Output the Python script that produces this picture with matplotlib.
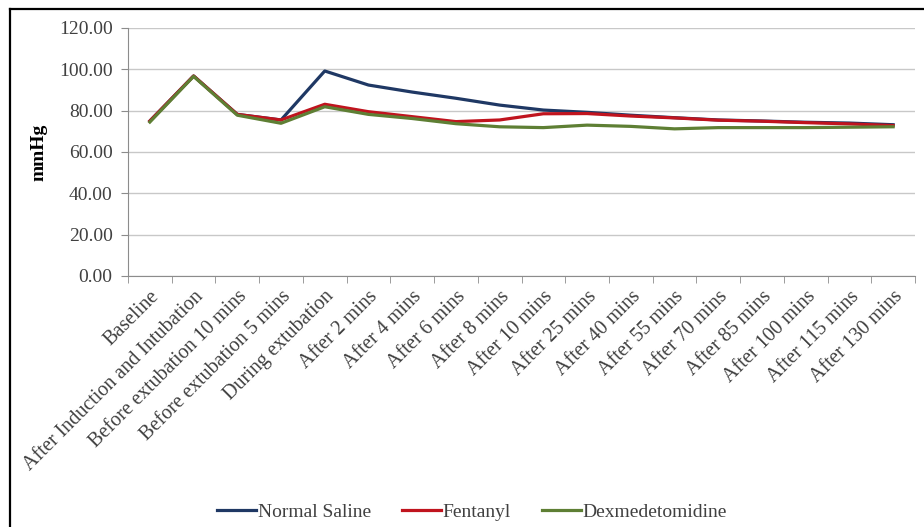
import matplotlib.pyplot as plt
from matplotlib.lines import Line2D
from matplotlib.ticker import FormatStrFormatter, MultipleLocator, FixedLocator

plt.rcParams['font.family'] = ['Liberation Serif', 'DejaVu Serif']

# Data
times = ["Baseline", "After Induction and Intubation", "Before extubation 10 mins",
         "Before extubation 5 mins", "During extubation", "After 2 mins", "After 4 mins",
         "After 6 mins", "After 8 mins", "After 10 mins", "After 25 mins", "After 40 mins",
         "After 55 mins", "After 70 mins", "After 85 mins", "After 100 mins",
         "After 115 mins", "After 130 mins"]
normal_saline = [75.0, 96.8, 78.2, 75.5, 99.2, 92.4, 89.0, 86.0, 82.7, 80.3, 79.2, 77.8,
                 76.6, 75.5, 75.0, 74.4, 74.0, 73.2]
fentanyl = [75.0, 96.8, 78.2, 75.5, 83.1, 79.5, 77.1, 74.7, 75.5, 78.5, 78.6, 77.4,
            76.5, 75.4, 74.9, 74.2, 73.6, 72.8]
dexmed = [74.5, 96.6, 77.8, 73.9, 81.9, 78.2, 76.2, 73.7, 72.2, 71.8, 73.0, 72.4,
          71.2, 71.8, 71.8, 71.8, 72.0, 72.2]

W, H = 924, 527
fig = plt.figure(figsize=(W / 100, H / 100), dpi=100)
ax = fig.add_axes([128 / W, 1 - 276 / H, (915 - 128) / W, (276 - 28) / H])

x = range(len(times))
ax.plot(x, normal_saline, color='#1F3864', linewidth=2.3, label='Normal Saline')
ax.plot(x, fentanyl, color='#C0141E', linewidth=2.3, label='Fentanyl')
ax.plot(x, dexmed, color='#5E7F34', linewidth=2.3, label='Dexmedetomidine')

ax.set_xlim(-0.5, len(times) - 0.5)
ax.set_ylim(0, 120)
ax.yaxis.set_major_locator(MultipleLocator(20))
ax.yaxis.set_major_formatter(FormatStrFormatter('%.2f'))
ax.grid(axis='y', color='#C8C8C8', linewidth=1)
ax.set_axisbelow(True)

ax.set_xticks(list(x))
ax.set_xticklabels(times, rotation=45, ha='right', rotation_mode='anchor')
ax.xaxis.set_minor_locator(FixedLocator([i - 0.5 for i in range(len(times) + 1)]))
ax.tick_params(axis='x', which='major', length=0, pad=8, labelsize=14.5, labelcolor='#404040')
ax.tick_params(axis='x', which='minor', length=5, color='#8C8C8C')
ax.tick_params(axis='y', length=5, color='#8C8C8C', labelsize=14, labelcolor='#404040', pad=6)

for s in ['top', 'right']:
    ax.spines[s].set_visible(False)
for s in ['left', 'bottom']:
    ax.spines[s].set_color('#8C8C8C')

ax.set_ylabel("mmHg", fontsize=14, fontweight='bold', labelpad=8)

fig.legend(loc='center', bbox_to_anchor=(472 / W, 1 - 512 / H), ncol=3, frameon=False,
           fontsize=14, handlelength=2.0, handletextpad=0.1, columnspacing=1.6,
           labelcolor='#404040')

# outer frame (left and top edges visible in the crop)
fig.add_artist(Line2D([10 / W, 10 / W], [0, 1 - 9 / H], color='black', linewidth=1.6))
fig.add_artist(Line2D([10 / W, 1], [1 - 9 / H, 1 - 9 / H], color='black', linewidth=1.6))

plt.savefig("out.png", dpi=100)
